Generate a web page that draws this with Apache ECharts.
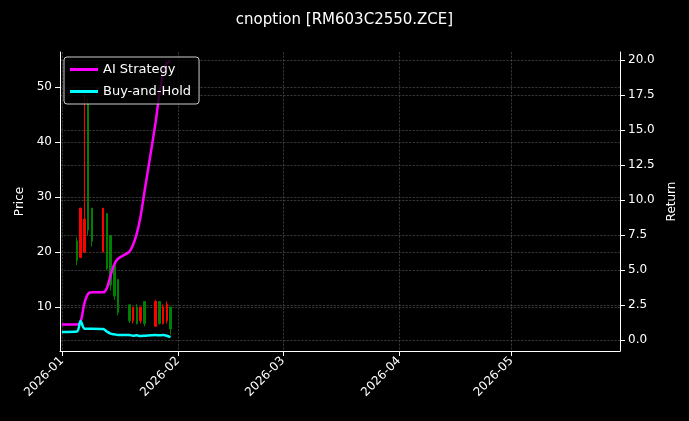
<!DOCTYPE html>
<html>
<head>
<meta charset="utf-8">
<script src="https://cdn.jsdelivr.net/npm/echarts@6/dist/echarts.min.js"></script>
<style>
  html, body { margin: 0; padding: 0; background: #000; }
  #chart { width: 689px; height: 421px; }
</style>
</head>
<body>
<div id="chart"></div>
<script>
const days = ['2026-01-05', '2026-01-06', '2026-01-07', '2026-01-08', '2026-01-09',
  '2026-01-12', '2026-01-13', '2026-01-14', '2026-01-15', '2026-01-16',
  '2026-01-19', '2026-01-20', '2026-01-21', '2026-01-22', '2026-01-23',
  '2026-01-26', '2026-01-27', '2026-01-28', '2026-01-29', '2026-01-30']
// open, close, low, high
const ohlc = [
  [22, 18.5, 17.6, 22.7], [19, 28, 19, 28], [20, 26, 19.8, 49.5], [47, 24, 23, 48], [28, 22, 21, 28],
  [20, 28, 20, 28], [27, 17, 16.7, 27], [23, 14, 13, 23], [17.6, 12, 11.3, 17.6], [15, 9, 8.5, 15],
  [10.4, 7.5, 7.1, 10.4], [7.5, 10, 7, 10], [10, 7, 6.8, 10.5], [7.5, 10, 7, 10], [11, 7, 6.5, 11],
  [6.5, 11, 6.4, 11.3], [11, 7, 6.8, 11], [7, 10, 6.8, 10.5], [7.5, 10.5, 7, 11], [10, 6, 5, 10]
]
const lineDays = ['2026-01-01'].concat(days)
const aiReturn = [1.1, 1.1, 1.3, 2.6, 3.3, 3.4, 3.4, 3.7, 4.6, 5.4, 5.8,
  6.3, 6.8, 7.6, 8.8, 10.5, 15.5, 17.5, 19.0, 19.8, 19.9]
const bhReturn = [0.57, 0.6, 1.35, 0.8, 0.8, 0.8, 0.78, 0.6, 0.45, 0.4, 0.35,
  0.35, 0.3, 0.33, 0.28, 0.3, 0.35, 0.33, 0.35, 0.3, 0.2]
const monthTicks = ['2026-01-01', '2026-02-01', '2026-03-01', '2026-04-01', '2026-05-01']
const priceTicks = [10, 20, 30, 40, 50]
const returnTicks = [0, 2.5, 5, 7.5, 10, 12.5, 15, 17.5, 20]

const ts = d => Date.UTC(+d.slice(0, 4), +d.slice(5, 7) - 1, +d.slice(8, 10))
const grid = { type: 'dashed', color: '#555', width: 0.6 }
const font = 'DejaVu Sans'

const chart = echarts.init(document.getElementById('chart'))
chart.setOption({
  backgroundColor: '#000',
  animation: false,
  textStyle: { fontFamily: font },
  title: {
    text: 'cnoption [RM603C2550.ZCE]', left: 'center', top: 8,
    textStyle: { color: '#fff', fontSize: 15, fontWeight: 'normal', fontFamily: font }
  },
  legend: {
    left: 64, top: 57, orient: 'vertical', itemGap: 9,
    backgroundColor: 'rgba(0,0,0,0.8)', borderColor: '#ccc', borderWidth: 1, borderRadius: 3,
    padding: [6, 8, 6, 6], itemWidth: 28, itemHeight: 3,
    textStyle: { color: '#fff', fontSize: 13 },
    data: [{ name: 'AI Strategy', icon: 'rect' }, { name: 'Buy-and-Hold', icon: 'rect' }]
  },
  grid: { left: 60, right: 69, top: 52, bottom: 70 },
  xAxis: {
    type: 'value',
    min: ts('2025-12-31') + 12 * 3600e3, max: ts('2026-05-30'),
    axisLine: { onZero: false, lineStyle: { color: '#fff' } },
    axisTick: { customValues: monthTicks.map(ts), lineStyle: { color: '#fff' } },
    axisLabel: {
      customValues: monthTicks.map(ts), rotate: 45, color: '#fff', fontSize: 12,
      formatter: v => { const d = new Date(v); return d.getUTCFullYear() + '-' + String(d.getUTCMonth() + 1).padStart(2, '0') }
    },
    splitLine: { show: true, lineStyle: grid }
  },
  yAxis: [{
    type: 'value', name: 'Price', nameLocation: 'middle', nameGap: 34,
    nameTextStyle: { color: '#fff', fontSize: 12 },
    min: 2, max: 56.4,
    axisLine: { show: true, lineStyle: { color: '#fff' } },
    axisTick: { show: true, customValues: priceTicks, lineStyle: { color: '#fff' } },
    axisLabel: { customValues: priceTicks, color: '#fff', fontSize: 12 },
    splitLine: { show: true, lineStyle: grid }
  }, {
    type: 'value', name: 'Return', nameLocation: 'middle', nameGap: 42,
    nameTextStyle: { color: '#fff', fontSize: 12 },
    min: -0.79, max: 20.57,
    axisLine: { show: true, lineStyle: { color: '#fff' } },
    axisTick: { show: true, customValues: returnTicks, lineStyle: { color: '#fff' } },
    axisLabel: { customValues: returnTicks, color: '#fff', fontSize: 12, formatter: v => v.toFixed(1) },
    splitLine: { show: true, lineStyle: grid }
  }],
  series: [{
    type: 'candlestick', yAxisIndex: 0, barWidth: 2,
    itemStyle: { color: '#ff0000', color0: '#008000', borderColor: '#ff0000', borderColor0: '#008000', borderWidth: 1 },
    data: days.map((d, i) => [ts(d)].concat(ohlc[i]))
  }, {
    name: 'AI Strategy', type: 'line', yAxisIndex: 1, showSymbol: false, smooth: 0.3,
    lineStyle: { color: '#ff00ff', width: 2.5 }, itemStyle: { color: '#ff00ff' },
    data: lineDays.map((d, i) => [ts(d), aiReturn[i]])
  }, {
    name: 'Buy-and-Hold', type: 'line', yAxisIndex: 1, showSymbol: false, smooth: 0.3,
    lineStyle: { color: '#00ffff', width: 2.5 }, itemStyle: { color: '#00ffff' },
    data: lineDays.map((d, i) => [ts(d), bhReturn[i]])
  }]
})
</script>
</body>
</html>
